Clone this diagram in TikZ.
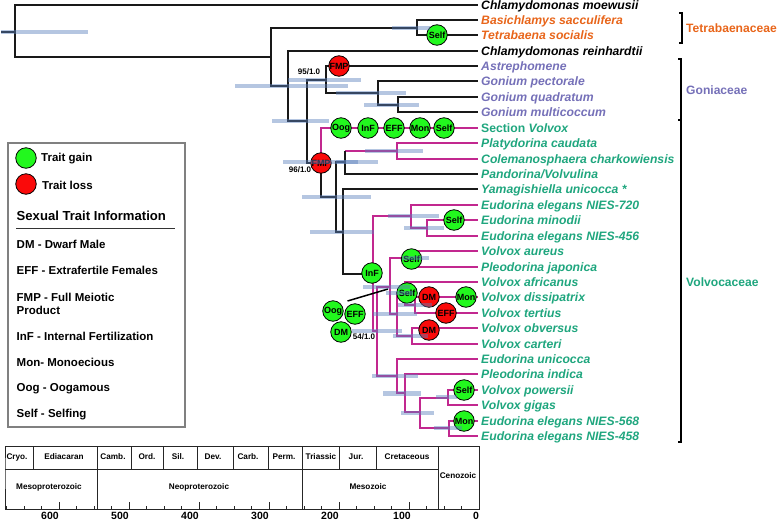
\documentclass[tikz,border=0pt]{standalone}
\usepackage{fontspec}
\setmainfont{Liberation Sans}
\definecolor{pk}{HTML}{C2288F}
\definecolor{org}{HTML}{E8651A}
\definecolor{gon}{HTML}{7570B8}
\definecolor{grn}{HTML}{1FA67E}
\definecolor{barc}{HTML}{5A80BC}
\definecolor{gain}{HTML}{22F81E}
\definecolor{loss}{HTML}{FA0A0A}
\tikzset{
  blk/.style={draw=black!90,line width=1.7pt},
  pnk/.style={draw=pk,line width=1.7pt},
  bar/.style={draw=barc,line width=4.4pt,draw opacity=.45},
  tip/.style={anchor=west,inner xsep=3pt,inner ysep=0pt,text height=9pt,text depth=0pt,font=\fontsize{12.2}{13}\selectfont\bfseries\itshape},
  tipk/.style={tip,text=black},
  tipo/.style={tip,text=org},
  tipg/.style={tip,text=gon},
  tipv/.style={tip,text=grn},
  trait/.style={circle,draw=black,line width=.8pt,minimum size=20.5pt,inner sep=0pt,text=black,font=\fontsize{9}{10}\selectfont\bfseries},
  gainn/.style={trait,fill=gain},
  lossn/.style={trait,fill=loss},
  sup/.style={inner sep=0pt,font=\fontsize{8}{9}\selectfont\bfseries},
  leg/.style={anchor=west,inner sep=0pt,align=left,font=\fontsize{11.5}{13}\selectfont\bfseries},
  geo/.style={inner sep=0pt,font=\fontsize{8.2}{9}\selectfont\bfseries},
  ageno/.style={inner sep=0pt,font=\fontsize{10.5}{11}\selectfont\bfseries},
  scl/.style={draw=black!85,line width=.8pt},
  brk/.style={draw=black,line width=1.6pt},
  fam/.style={anchor=west,inner sep=0pt,font=\fontsize{12.1}{13}\selectfont\bfseries},
}
\begin{document}
\begin{tikzpicture}[x=1pt,y=-1pt]
\useasboundingbox (0,0) rectangle (777,520);
% tips
\node[tipk] (t1) at (478,5) {Chlamydomonas moewusii};
\node[tipo] (t2) at (478,20) {Basichlamys sacculifera};
\node[tipo] (t3) at (478,35) {Tetrabaena socialis};
\node[tipk] (t4) at (478,51) {Chlamydomonas reinhardtii};
\node[tipg] (t5) at (478,66) {Astrephomene};
\node[tipg] (t6) at (478,81) {Gonium pectorale};
\node[tipg] (t7) at (478,97) {Gonium quadratum};
\node[tipg] (t8) at (478,112) {Gonium multicoccum};
\node[tipv] (t9) at (478,128) {\upshape Section \itshape Volvox};
\node[tipv] (t10) at (478,143) {Platydorina caudata};
\node[tipv] (t11) at (478,159) {Colemanosphaera charkowiensis};
\node[tipv] (t12) at (478,174) {Pandorina/Volvulina};
\node[tipv] (t13) at (478,189) {Yamagishiella unicocca *};
\node[tipv] (t14) at (478,205) {Eudorina elegans NIES-720};
\node[tipv] (t15) at (478,220) {Eudorina minodii};
\node[tipv] (t16) at (478,236) {Eudorina elegans NIES-456};
\node[tipv] (t17) at (478,251) {Volvox aureus};
\node[tipv] (t18) at (478,267) {Pleodorina japonica};
\node[tipv] (t19) at (478,282) {Volvox africanus};
\node[tipv] (t20) at (478,297) {Volvox dissipatrix};
\node[tipv] (t21) at (478,313) {Volvox tertius};
\node[tipv] (t22) at (478,328) {Volvox obversus};
\node[tipv] (t23) at (478,344) {Volvox carteri};
\node[tipv] (t24) at (478,359) {Eudorina unicocca};
\node[tipv] (t25) at (478,374) {Pleodorina indica};
\node[tipv] (t26) at (478,390) {Volvox powersii};
\node[tipv] (t27) at (478,405) {Volvox gigas};
\node[tipv] (t28) at (478,421) {Eudorina elegans NIES-568};
\node[tipv] (t29) at (478,436) {Eudorina elegans NIES-458};
% branch points
\coordinate (r0) at (1,32);
\coordinate (r) at (15,32);
\coordinate (a) at (271,57);
\coordinate (tet) at (417,28);
\coordinate (b) at (288,86);
\coordinate (c) at (307,121);
\coordinate (gn) at (326,80);
\coordinate (gn2) at (378,93);
\coordinate (gn3) at (398,105);
\coordinate (v) at (321,163);
\coordinate (v2) at (336,197);
\coordinate (pp) at (345,162);
\coordinate (ptop) at (345,151);
\coordinate (pc) at (397,151);
\coordinate (y) at (343,232);
\coordinate (e) at (373,274);
\coordinate (e2) at (411,216);
\coordinate (e3) at (427,228);
\coordinate (w) at (377,331);
\coordinate (w2) at (390,287);
\coordinate (w3) at (410,258);
\coordinate (w4) at (397,314);
\coordinate (w5) at (405,293);
\coordinate (w6) at (415,305);
\coordinate (w7) at (412,336);
\coordinate (x) at (397,376);
\coordinate (x2) at (405,393);
\coordinate (x3) at (420,412);
\coordinate (x4) at (448,398);
\coordinate (x5) at (449,428);
\coordinate (sv) at (321,128);
\coordinate (pan) at (345,174);
% pink branches
\path[pnk] (v) -- (sv) -- (t9);
\path[pnk] (ptop) -- (pc);
\path[pnk] (pc) |- (t10);
\path[pnk] (pc) |- (t11);
\path[pnk] (e) |- (e2);
\path[pnk] (e) |- (w);
\path[pnk] (e2) |- (t14);
\path[pnk] (e2) |- (e3);
\path[pnk] (e3) |- (t15);
\path[pnk] (e3) |- (t16);
\path[pnk] (w) |- (w2);
\path[pnk] (w) |- (x);
\path[pnk] (w2) |- (w3);
\path[pnk] (w2) |- (w4);
\path[pnk] (w3) |- (t17);
\path[pnk] (w3) |- (t18);
\path[pnk] (w4) |- (w5);
\path[pnk] (w4) |- (w7);
\path[pnk] (w5) |- (t19);
\path[pnk] (w5) |- (w6);
\path[pnk] (w6) |- (t20);
\path[pnk] (w6) |- (t21);
\path[pnk] (w7) |- (t22);
\path[pnk] (w7) |- (t23);
\path[pnk] (x) |- (t24);
\path[pnk] (x) |- (x2);
\path[pnk] (x2) |- (t25);
\path[pnk] (x2) |- (x3);
\path[pnk] (x3) |- (x4);
\path[pnk] (x3) |- (x5);
\path[pnk] (x4) |- (t26);
\path[pnk] (x4) |- (t27);
\path[pnk] (x5) |- (t28);
\path[pnk] (x5) |- (t29);
% black branches
\path[blk] (r0) -- (r);
\path[blk] (r) |- (t1);
\path[blk] (r) |- (a);
\path[blk] (a) |- (tet);
\path[blk] (a) |- (b);
\path[blk] (tet) |- (t2);
\path[blk] (tet) |- (t3);
\path[blk] (b) |- (t4);
\path[blk] (b) |- (c);
\path[blk] (c) |- (gn);
\path[blk] (c) |- (v);
\path[blk] (gn) |- (t5);
\path[blk] (gn) |- (gn2);
\path[blk] (gn2) |- (t6);
\path[blk] (gn2) |- (gn3);
\path[blk] (gn3) |- (t7);
\path[blk] (gn3) |- (t8);
\path[blk] (v) |- (v2);
\path[blk] (v2) |- (pp);
\path[blk] (v2) |- (y);
\path[blk] (ptop) -- (pan) -- (t12);
\path[blk] (y) |- (t13);
\path[blk] (y) |- (e);
% trait nodes
\node[gainn] (s1) at (437,35) {Self};
\node[lossn] (f1) at (339,66) {FMP};
\node[lossn] (f2) at (321,163) {FMP};
\node[gainn] (g1) at (341,128) {Oog};
\node[gainn] (g2) at (368,128) {InF};
\node[gainn] (g3) at (394,128) {EFF};
\node[gainn] (g4) at (420,128) {Mon};
\node[gainn] (g5) at (444,128) {Self};
\node[gainn] (s2) at (454,220) {Self};
\node[gainn] (i1) at (372,273) {InF};
\node[gainn] (s3) at (411.5,259) {Self};
\node[gainn] (s4) at (407,293) {Self};
\node[lossn] (d1) at (429,297) {DM};
\node[gainn] (m1) at (466,297) {Mon};
\node[lossn] (e1) at (446,313) {EFF};
\node[lossn] (d2) at (429,330) {DM};
\node[gainn] (s5) at (464,390) {Self};
\node[gainn] (m2) at (464,421) {Mon};
\node[gainn] (oog) at (333,311) {Oog};
\node[gainn] (eff) at (355,314) {EFF};
\node[gainn] (dm) at (341,332) {DM};
\coordinate (lk1) at (347.5,301);
\coordinate (lk2) at (388,289);
\draw[black,line width=1.5pt] (lk1) -- (lk2);
% uncertainty bars
\foreach \xa/\xb/\yy in {1/88/32,235/348/86,288/361/80,392/430/28,336/406/93,364/419/105,272/329/121,283/378/162,336/358/162,302/371/197,365/423/151,310/374/232,388/439/216,404/444/228,363/410/287,402/429/258,386/413/293,398/432/305,373/417/314,352/402/331,393/428/336,372/418/376,383/421/393.5,401/434/413,436/457/397,434/462/428}
  \path[bar] (\xa,\yy) -- (\xb,\yy);
% support values
\node[sup] (n95) at (309,72) {95/1.0};
\node[sup] (n96) at (300,170) {96/1.0};
\node[sup] (n54) at (364,337) {54/1.0};
% family brackets
\coordinate (ba) at (679,13);
\coordinate (bb) at (682,13);
\coordinate (bc) at (682,43);
\coordinate (bd) at (679,43);
\path[brk] (ba) -- (bb) -- (bc) -- (bd);
\coordinate (ca) at (678,59);
\coordinate (cb) at (681,59);
\coordinate (cc) at (681,442);
\coordinate (cd) at (678,442);
\coordinate (ce) at (678,120);
\coordinate (cf) at (681,120);
\path[brk] (ca) -- (cb) -- (cc) -- (cd);
\path[brk] (ce) -- (cf);
\node[fam,text=org] (fa) at (686,28) {Tetrabaenaceae};
\node[fam,text=gon] (fb) at (686,90) {Goniaceae};
\node[fam,text=grn] (fc) at (686,282) {Volvocaceae};
% legend
\node[draw=black!50,line width=2pt,minimum width=177pt,minimum height=284pt,anchor=north west,inner sep=0pt] (box) at (7,142) {};
\node[gainn] (lg) at (26,158) {};
\node[lossn] (ll) at (26,184) {};
\node[leg] (lgt) at (41,159) {Trait gain};
\node[leg] (llt) at (42,185) {Trait loss};
\node[leg,font=\fontsize{13.1}{15}\selectfont\bfseries] (lh) at (16.5,216) {Sexual Trait Information};
\coordinate (hl1) at (16,228);
\coordinate (hl2) at (175,228);
\draw[black!80,line width=.8pt] (hl1) -- (hl2);
\node[leg] (l1) at (16.5,244) {DM - Dwarf Male};
\node[leg] (l2) at (16.5,270) {EFF - Extrafertile Females};
\node[leg] (l3) at (16.5,303.5) {FMP - Full Meiotic\\Product};
\node[leg] (l4) at (16.5,336) {InF - Internal Fertilization};
\node[leg] (l5) at (16.5,362) {Mon- Monoecious};
\node[leg] (l6) at (16.5,389) {Oog - Oogamous};
\node[leg] (l7) at (16.5,415) {Self - Selfing};
% time scale
\draw[scl] (5,469) |- (479,446) -- (479,509) -- (5,509) -- cycle;
\draw[scl] (5,469) -- (438,469);
\foreach \xx in {33,131,163,197,233,268,339,376} \draw[scl] (\xx,446) -- (\xx,469);
\foreach \xx in {97,302,438} \draw[scl] (\xx,446) -- (\xx,509);
\foreach \k in {0,...,27} \draw[scl] (479-17.5*\k,509) -- (479-17.5*\k,506);
\foreach \k in {0,...,6} \draw[scl] (479-70*\k,509) -- (479-70*\k,502);
\foreach \xx/\lab in {17/Cryo.,64/Ediacaran,113/Camb.,147/Ord.,178/Sil.,213/Dev.,248/Carb.,284/Perm.,321/Triassic,356/Jur.,407/Cretaceous}
  \node[geo] at (\xx,457) {\lab};
\node[geo] (mp) at (49,487) {Mesoproterozoic};
\node[geo] (np) at (199,487) {Neoproterozoic};
\node[geo] (mz) at (368,487) {Mesozoic};
\node[geo] (cz) at (458,476) {Cenozoic};
\foreach \xx/\lab in {50/600,120/500,190/400,260/300,330/200,402/100,476/0}
  \node[ageno] at (\xx,515.5) {\lab};
\end{tikzpicture}
\end{document}
